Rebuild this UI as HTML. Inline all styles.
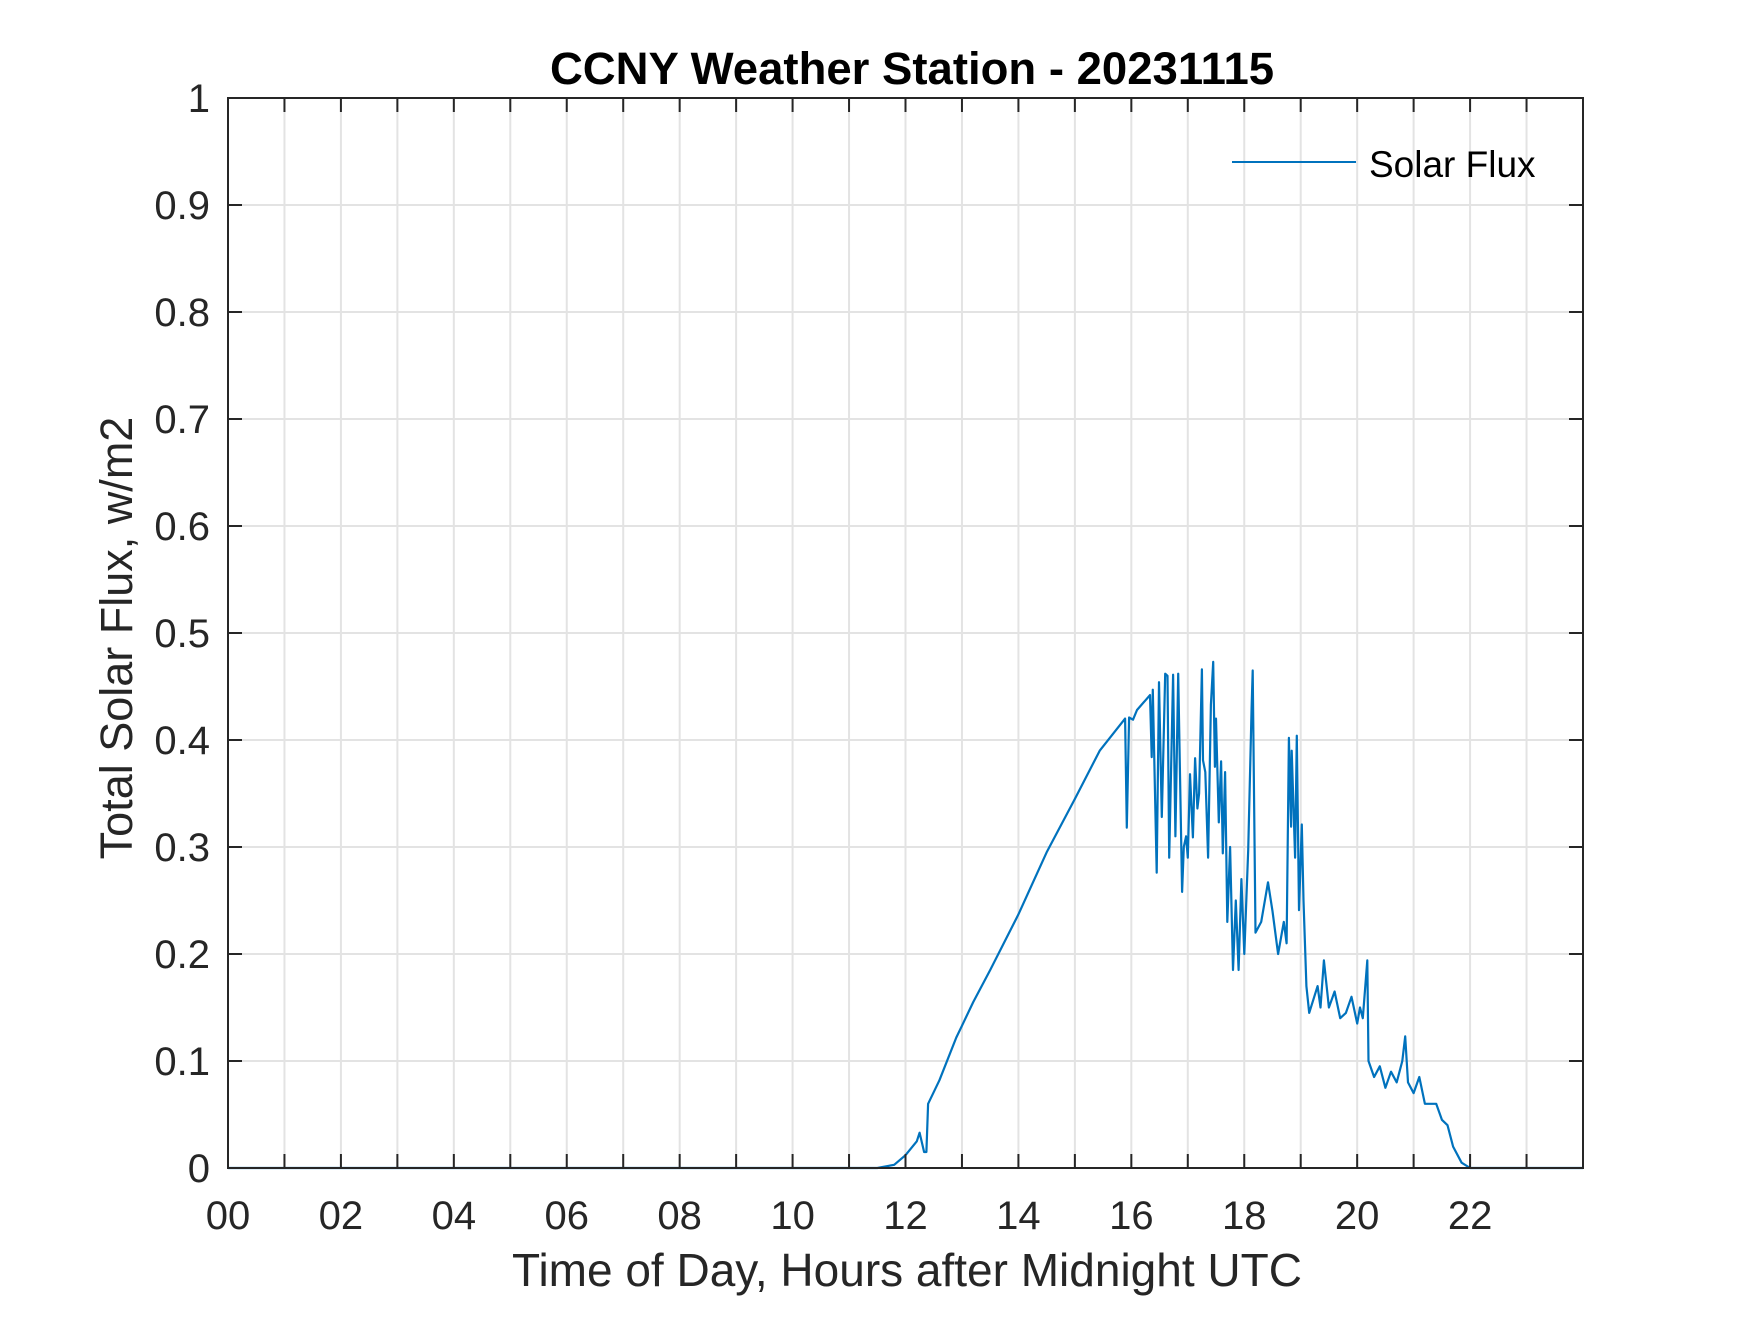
<!DOCTYPE html>
<html><head><meta charset="utf-8"><style>
html,body{margin:0;padding:0;background:#fff;}
svg text{font-family:"Liberation Sans",Arial,sans-serif;}
</style></head><body>
<svg id="chart" width="1750" height="1313" viewBox="0 0 1750 1313" xmlns="http://www.w3.org/2000/svg">
<rect width="1750" height="1313" fill="#fff"/>
<g id="grid"></g>
<g id="series"></g>
<g id="axes"></g>
<text x="912" y="84" font-size="45.5" font-weight="bold" text-anchor="middle" fill="#000">CCNY Weather Station - 20231115</text>
<text x="907" y="1286" font-size="46" text-anchor="middle" fill="#262626">Time of Day, Hours after Midnight UTC</text>
<text transform="translate(132,638) rotate(-90)" font-size="45" text-anchor="middle" fill="#262626">Total Solar Flux, w/m2</text>
<g>
<line x1="1232" y1="162" x2="1356" y2="162" stroke="#0072BD" stroke-width="2"/>
<text x="1369" y="177" font-size="37" fill="#000">Solar Flux</text>
</g>
</svg>
<script>
const hours = [0,11.5,11.8,12.0,12.2,12.25,12.33,12.37,12.4,12.6,12.9,13.0,13.2,13.5,14.0,14.5,15.0,15.44,15.89,15.92,15.96,16.03,16.1,16.33,16.36,16.38,16.45,16.49,16.54,16.6,16.64,16.67,16.74,16.78,16.83,16.9,16.93,16.97,17.0,17.04,17.09,17.13,17.17,17.2,17.25,17.27,17.31,17.36,17.41,17.45,17.48,17.5,17.55,17.59,17.62,17.66,17.7,17.75,17.8,17.85,17.9,17.95,18.0,18.07,18.13,18.15,18.2,18.3,18.42,18.5,18.6,18.7,18.75,18.79,18.83,18.84,18.9,18.93,18.97,19.02,19.05,19.1,19.15,19.3,19.35,19.41,19.5,19.6,19.7,19.8,19.9,20.0,20.05,20.1,20.18,20.2,20.3,20.4,20.5,20.6,20.7,20.8,20.85,20.9,21.0,21.1,21.2,21.4,21.5,21.6,21.7,21.85,22.0,24];
const flux = [0,0,0.003,0.012,0.025,0.033,0.015,0.015,0.06,0.082,0.122,0.133,0.155,0.185,0.237,0.295,0.345,0.39,0.42,0.318,0.421,0.419,0.428,0.442,0.384,0.447,0.276,0.454,0.328,0.462,0.46,0.29,0.461,0.31,0.462,0.258,0.3,0.31,0.29,0.368,0.309,0.383,0.336,0.35,0.466,0.381,0.37,0.29,0.433,0.473,0.375,0.42,0.323,0.38,0.294,0.37,0.23,0.3,0.185,0.25,0.185,0.27,0.2,0.297,0.43,0.465,0.22,0.23,0.267,0.24,0.2,0.23,0.21,0.402,0.319,0.39,0.29,0.404,0.241,0.321,0.25,0.17,0.145,0.17,0.15,0.194,0.15,0.165,0.14,0.145,0.16,0.135,0.15,0.14,0.194,0.1,0.085,0.095,0.075,0.09,0.08,0.1,0.123,0.08,0.07,0.085,0.06,0.06,0.045,0.04,0.02,0.005,0,0];
const xTickLabels = ["00","02","04","06","08","10","12","14","16","18","20","22"];
const yTickLabels = ["0","0.1","0.2","0.3","0.4","0.5","0.6","0.7","0.8","0.9","1"];

const L=228,R=1583,T=98,B=1168;
const xs = h => L + (h/24)*(R-L);
const ys = v => B - v*(B-T);
const NS="http://www.w3.org/2000/svg";
function mk(tag, attrs, parent){const e=document.createElementNS(NS,tag);for(const k in attrs)e.setAttribute(k,attrs[k]);parent.appendChild(e);return e;}
const grid=document.getElementById('grid'), axes=document.getElementById('axes'), series=document.getElementById('series');
for(let h=1;h<24;h++){
  const g=mk('line',{x1:xs(h),x2:xs(h),y1:T,y2:B,stroke:'#e3e3e3','stroke-width':2},grid);
  
  
  const t1=mk('line',{x1:xs(h),x2:xs(h),y1:B,y2:B-14,stroke:'#262626','stroke-width':2},axes);
  
  
  const t2=mk('line',{x1:xs(h),x2:xs(h),y1:T,y2:T+14,stroke:'#262626','stroke-width':2},axes);
  
  
}
xTickLabels.forEach((lab,i)=>{
  const t=mk('text',{x:xs(i*2),y:1229,'font-size':40,'text-anchor':'middle',fill:'#262626'},axes);
  t.textContent=lab;
  
  
});
yTickLabels.forEach((lab,i)=>{
  const v=i/10;
  if(i>0&&i<10){
    const g=mk('line',{x1:L,x2:R,y1:ys(v),y2:ys(v),stroke:'#e3e3e3','stroke-width':2},grid);
    
    
  }
  const a=mk('line',{x1:L,x2:L+14,y1:ys(v),y2:ys(v),stroke:'#262626','stroke-width':2},axes);
  
  
  const b=mk('line',{x1:R-14,x2:R,y1:ys(v),y2:ys(v),stroke:'#262626','stroke-width':2},axes);
  
  
  const t=mk('text',{x:210,y:ys(v)+14,'font-size':40,'text-anchor':'end',fill:'#262626'},axes);
  t.textContent=lab;
  
  
});
const box=mk('rect',{x:L,y:T,width:R-L,height:B-T,fill:'none',stroke:'#262626','stroke-width':2},axes);


const d=hours.map((h,i)=>(i?'L':'M')+xs(h).toFixed(1)+','+ys(flux[i]).toFixed(1)).join('');
const p=mk('path',{d:d,fill:'none',stroke:'#0072BD','stroke-width':2.2,'stroke-linejoin':'round'},series);


</script>
</body></html>
